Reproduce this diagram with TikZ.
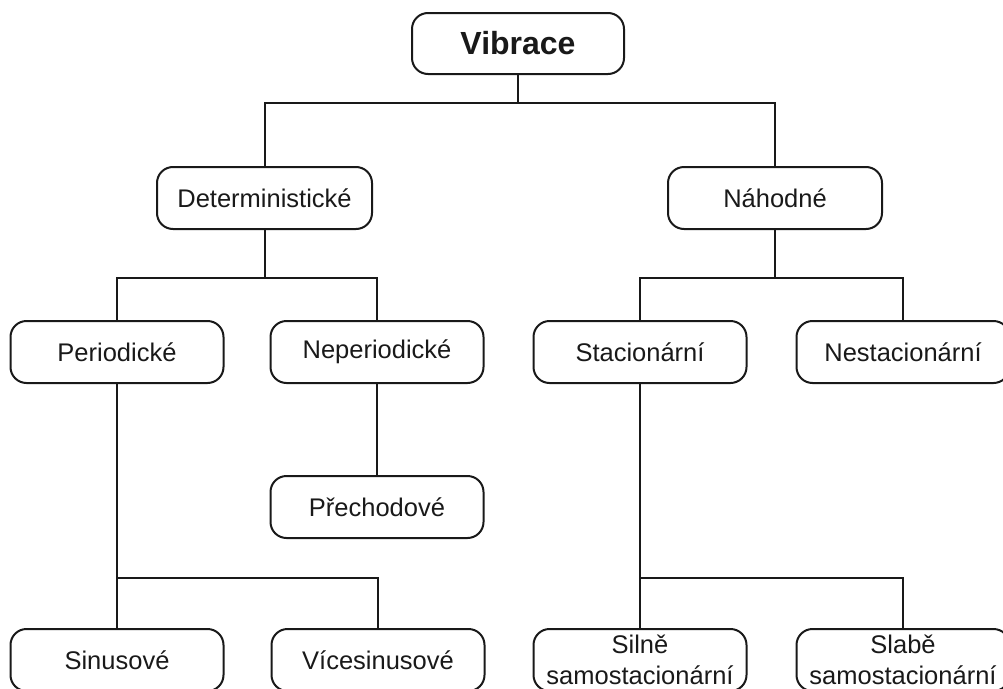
\documentclass[tikz,border=0pt]{standalone}
\usepackage{fontspec}
\setmainfont{Liberation Sans}
\begin{document}
\begin{tikzpicture}[x=1pt,y=-1pt,
  box/.style={draw=black!90, line width=2pt, rounded corners=16pt, minimum width=213pt, minimum height=62pt, inner sep=0pt, align=center, font=\fontsize{25.5}{30.5}\selectfont, text=black!90},
  conn/.style={draw=black!90, line width=2pt}]
\useasboundingbox (0,0) rectangle (1003,688);
\node[box, minimum width=212pt, minimum height=61pt, font=\fontsize{32}{36}\selectfont\bfseries] (vib) at (518,43.5) {Vibrace};
\node[box, minimum width=215pt] (det) at (264.5,198) {Deterministické};
\node[box, minimum width=214pt] (nah) at (775,198) {Náhodné};
\node[box] (per) at (117,352) {Periodické};
\node[box] (nep) at (377,352) {Neperiodické};
\node[box] (sta) at (640,352) {Stacionární};
\node[box] (nes) at (903,352) {Nestacionární};
\node[box] (pre) at (377,507) {Přechodové};
\node[box] (sin) at (117,660) {Sinusové};
\node[box] (vic) at (378,660) {Vícesinusové};
\node[box] (sil) at (640,660) {Silně\\samostacionární};
\node[box] (sla) at (903,660) {Slabě\\samostacionární};
\coordinate (j1) at (518,103);
\coordinate (j2) at (264.5,278);
\coordinate (j3) at (775,278);
\coordinate (j4) at (117,578);
\coordinate (j5) at (640,578);
\draw[conn] (vib.south) -- (j1);
\draw[conn] (j1) -| (det.north);
\draw[conn] (j1) -| (nah.north);
\draw[conn] (det.south) -- (j2);
\draw[conn] (j2) -| (per.north);
\draw[conn] (j2) -| (nep.north);
\draw[conn] (nah.south) -- (j3);
\draw[conn] (j3) -| (sta.north);
\draw[conn] (j3) -| (nes.north);
\draw[conn] (nep.south) -- (pre.north);
\draw[conn] (per.south) -- (j4);
\draw[conn] (j4) -- (sin.north);
\draw[conn] (j4) -| (vic.north);
\draw[conn] (sta.south) -- (j5);
\draw[conn] (j5) -- (sil.north);
\draw[conn] (j5) -| (sla.north);
\end{tikzpicture}
\end{document}
